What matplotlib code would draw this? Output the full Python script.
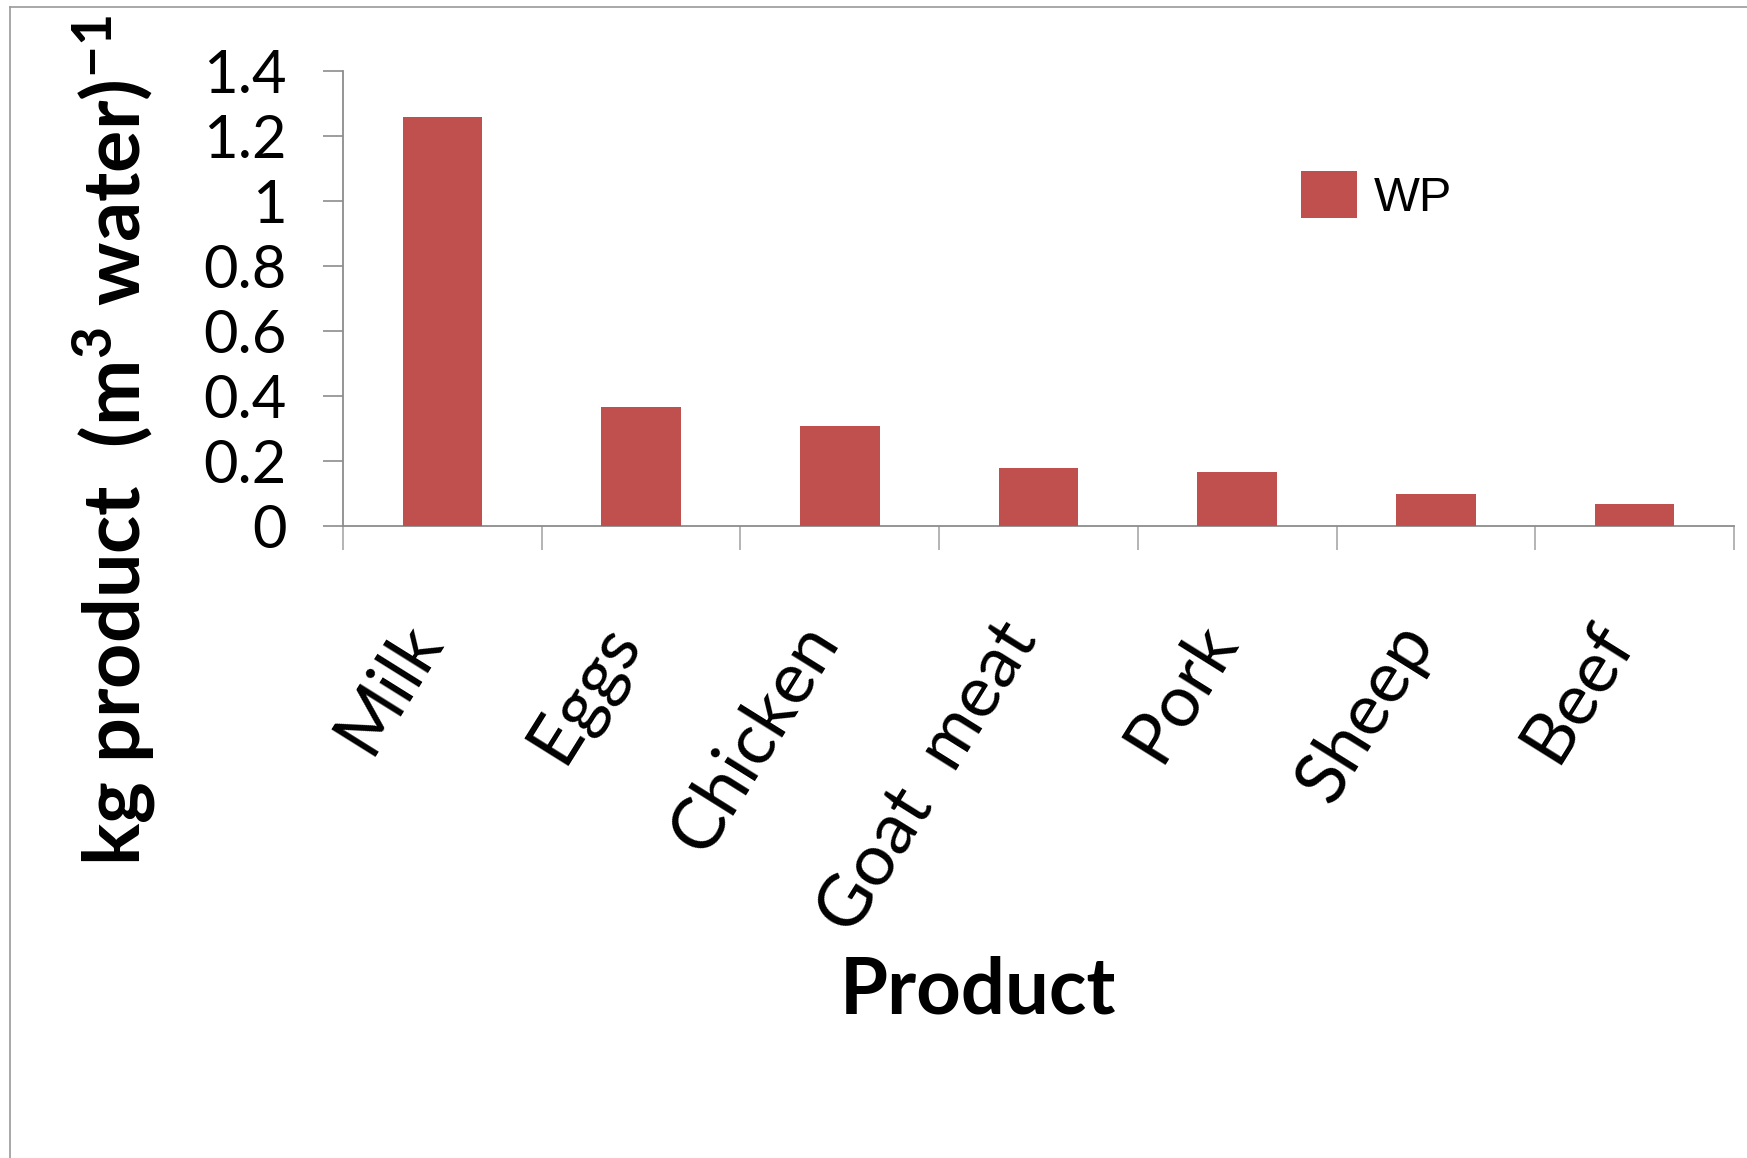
import numpy as np
import matplotlib
matplotlib.use("Agg")
import matplotlib.pyplot as plt
from matplotlib.patches import Patch
from matplotlib.lines import Line2D

products = ["Milk", "Eggs", "Chicken", "Goat  meat", "Pork", "Sheep", "Beef"]
wp = [1.26, 0.365, 0.307, 0.178, 0.166, 0.098, 0.068]
y_ticks = [0, 0.2, 0.4, 0.6, 0.8, 1.0, 1.2, 1.4]
y_tick_labels = ["0", "0.2", "0.4", "0.6", "0.8", "1", "1.2", "1.4"]

BAR_COLOR = "#C0504D"
AXIS_GRAY = "#8c8c8c"

plt.rcParams["font.family"] = ["Lato", "DejaVu Sans"]
plt.rcParams["mathtext.fontset"] = "custom"
plt.rcParams["mathtext.rm"] = "Lato:bold"
plt.rcParams["mathtext.default"] = "rm"

W, H = 1747, 1158
fig = plt.figure(figsize=(W / 100, H / 100), dpi=100)

# outer chart frame (only top/left edges fall inside the picture)
fig.add_artist(Line2D([10 / W, 1], [1 - 7 / H, 1 - 7 / H], color="#9a9a9a", lw=1.2))
fig.add_artist(Line2D([10 / W, 10 / W], [0, 1 - 7 / H], color="#9a9a9a", lw=1.2))

ax_l, ax_r, ax_t, ax_b = 343, 1734, 71, 526
ax = fig.add_axes([ax_l / W, 1 - ax_b / H, (ax_r - ax_l) / W, (ax_b - ax_t) / H])

x = np.arange(len(products))
ax.bar(x, wp, width=0.4, color=BAR_COLOR, label="WP", zorder=3)

ax.set_xlim(-0.5, len(products) - 0.5)
ax.set_ylim(0, 1.4)
ax.set_yticks(y_ticks)
ax.set_yticklabels(y_tick_labels, fontsize=43)
ax.tick_params(axis="y", length=14.4, width=1.2, color=AXIS_GRAY, pad=26)

ax.set_xticks(x)
ax.set_xticklabels(products, fontsize=52)
ax.set_xticks(np.arange(-0.5, len(products), 1), minor=True)
ax.tick_params(axis="x", which="major", length=0, pad=82)
ax.tick_params(axis="x", which="minor", length=17, width=1.2, color="#a8a8a8")
for lab in ax.get_xticklabels():
    lab.set_rotation(58)
    lab.set_ha("right")
    lab.set_va("baseline")
    lab.set_rotation_mode("anchor")

for s in ["top", "right"]:
    ax.spines[s].set_visible(False)
for s in ["left", "bottom"]:
    ax.spines[s].set_color(AXIS_GRAY)
    ax.spines[s].set_linewidth(1.3)

axh = ax_b - ax_t
axw = ax_r - ax_l
ax.set_xlabel("Product", fontsize=56, fontweight="bold")
ax.xaxis.label.set_va("baseline")
ax.xaxis.set_label_coords((978 - ax_l) / axw, (ax_b - 1014) / axh)

ax.set_ylabel("kg product  (m$^{3}$ water)$^{-1}$", fontsize=57, fontweight="bold")
ax.yaxis.set_label_coords((158 - ax_l) / axw, (ax_b - 441) / axh)

handles = [Patch(facecolor=BAR_COLOR, edgecolor="none")]
ax.legend(handles, ["WP"], loc="center left", frameon=False,
          bbox_to_anchor=(1301 / W, 1 - 196 / H), bbox_transform=fig.transFigure,
          prop={"family": "Liberation Sans", "size": 35},
          handlelength=1.15, handleheight=1.13, handletextpad=0.35,
          borderpad=0, borderaxespad=0)

fig.savefig("out.png", dpi=100)
